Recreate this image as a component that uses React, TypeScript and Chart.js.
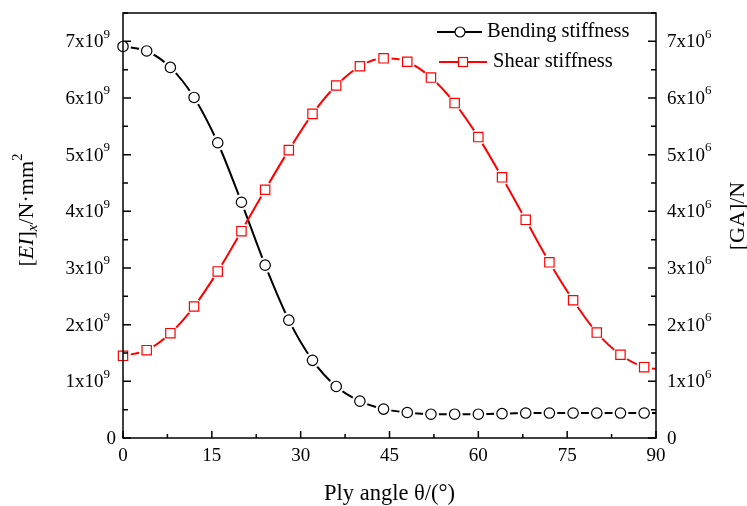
import React, { useEffect, useRef } from "react";
import { Chart, registerables } from "chart.js";

Chart.register(...registerables);

// ---- data ----
const angles = [0, 4, 8, 12, 16, 20, 24, 28, 32, 36, 40, 44, 48, 52, 56, 60, 64, 68, 72, 76, 80, 84, 88];
// Bending stiffness [EI]x (N·mm²)
const bending = [
  6.91e9, 6.83e9, 6.54e9, 6.01e9, 5.21e9, 4.16e9, 3.05e9, 2.08e9, 1.37e9, 0.91e9, 0.65e9, 0.51e9,
  0.45e9, 0.42e9, 0.42e9, 0.42e9, 0.43e9, 0.44e9, 0.44e9, 0.44e9, 0.44e9, 0.44e9, 0.44e9,
];
// Shear stiffness [GA] (N)
const shear = [
  1.45e6, 1.55e6, 1.85e6, 2.32e6, 2.94e6, 3.65e6, 4.38e6, 5.08e6, 5.72e6, 6.22e6, 6.56e6, 6.7e6,
  6.64e6, 6.36e6, 5.91e6, 5.31e6, 4.6e6, 3.85e6, 3.1e6, 2.43e6, 1.86e6, 1.47e6, 1.25e6,
];
// where the fitted curves end at the right frame (angle 90)
const curveEndAngle = 90;
const bendingAtEnd = 0.44e9;
const shearAtEnd = 1.22e6;

const seriesNames = ["Bending stiffness", "Shear stiffness"];

const xTicks = [0, 15, 30, 45, 60, 75, 90];
const xTickLabels = ["0", "15", "30", "45", "60", "75", "90"];
const leftTicks = [0, 1e9, 2e9, 3e9, 4e9, 5e9, 6e9, 7e9];
const rightTicks = [0, 1e6, 2e6, 3e6, 4e6, 5e6, 6e6, 7e6];
const tickMantissa = ["0", "1x10", "2x10", "3x10", "4x10", "5x10", "6x10", "7x10"];
const leftExp = "9";
const rightExp = "6";

const SERIF = "'Liberation Serif', 'Times New Roman', serif";

const overlay = {
  id: "overlay",
  afterDraw(chart: any) {
    const { ctx, chartArea } = chart;
    const { left, right, top, bottom } = chartArea;
    const x = chart.scales.x;
    const yL = chart.scales.yL;
    const yR = chart.scales.yR;
    ctx.save();
    ctx.strokeStyle = "#000";
    ctx.fillStyle = "#000";

    // frame
    ctx.lineWidth = 1.5;
    ctx.strokeRect(left, top, right - left, bottom - top);

    // ticks (inward)
    ctx.lineWidth = 1.5;
    ctx.beginPath();
    xTicks.forEach((v, i) => {
      const px = x.getPixelForValue(v);
      ctx.moveTo(px, bottom);
      ctx.lineTo(px, bottom - 7);
      if (i < xTicks.length - 1) {
        const pm = x.getPixelForValue((v + xTicks[i + 1]) / 2);
        ctx.moveTo(pm, bottom);
        ctx.lineTo(pm, bottom - 4);
      }
    });
    const yTicksDraw = (scale: any, ticks: number[], xEdge: number, dir: number) => {
      ticks.forEach((v, i) => {
        const py = scale.getPixelForValue(v);
        ctx.moveTo(xEdge, py);
        ctx.lineTo(xEdge + dir * 8, py);
        const nv = i < ticks.length - 1 ? ticks[i + 1] : v + (v - ticks[i - 1]);
        const mid = (v + nv) / 2;
        if (mid <= scale.max) {
          const pm = scale.getPixelForValue(mid);
          ctx.moveTo(xEdge, pm);
          ctx.lineTo(xEdge + dir * 5, pm);
        }
      });
    };
    yTicksDraw(yL, leftTicks, left, 1);
    yTicksDraw(yR, rightTicks, right, -1);
    ctx.stroke();

    // x tick labels
    ctx.font = `19px ${SERIF}`;
    ctx.textAlign = "center";
    ctx.textBaseline = "middle";
    xTicks.forEach((v, i) => {
      ctx.fillText(xTickLabels[i], x.getPixelForValue(v), bottom + 18);
    });

    // y tick labels with superscripts
    const mainFont = `19px ${SERIF}`;
    const supFont = `13px ${SERIF}`;
    leftTicks.forEach((v, i) => {
      const py = yL.getPixelForValue(v) + 1;
      if (i === 0) {
        ctx.font = mainFont;
        ctx.textAlign = "right";
        ctx.fillText(tickMantissa[i], left - 7, py);
        return;
      }
      ctx.font = supFont;
      const sw = ctx.measureText(leftExp).width;
      const end = left - 13;
      ctx.textAlign = "left";
      ctx.fillText(leftExp, end - sw, py - 8);
      ctx.font = mainFont;
      ctx.textAlign = "right";
      ctx.fillText(tickMantissa[i], end - sw, py);
    });
    rightTicks.forEach((v, i) => {
      const py = yR.getPixelForValue(v) + 1;
      const start = right + 11;
      ctx.font = mainFont;
      ctx.textAlign = "left";
      ctx.fillText(tickMantissa[i], start, py);
      if (i === 0) return;
      const mw = ctx.measureText(tickMantissa[i]).width;
      ctx.font = supFont;
      ctx.fillText(rightExp, start + mw, py - 8);
    });

    // x title
    ctx.font = `22.5px ${SERIF}`;
    ctx.textAlign = "center";
    ctx.textBaseline = "middle";
    ctx.fillText("Ply angle θ/(°)", (left + right) / 2, 494);

    // left title: [EI]x/N·mm²
    const segs = [
      { t: "[", f: `22px ${SERIF}`, dy: 0 },
      { t: "EI", f: `italic 22px ${SERIF}`, dy: 0 },
      { t: "]", f: `22px ${SERIF}`, dy: 0 },
      { t: "x", f: `italic 15px ${SERIF}`, dy: 6 },
      { t: "/N·mm", f: `22px ${SERIF}`, dy: 0 },
      { t: "2", f: `15px ${SERIF}`, dy: -9 },
    ];
    let total = 0;
    segs.forEach((s) => {
      ctx.font = s.f;
      total += ctx.measureText(s.t).width;
    });
    ctx.save();
    ctx.translate(27, 210);
    ctx.rotate(-Math.PI / 2);
    ctx.textAlign = "left";
    ctx.textBaseline = "middle";
    let cx = -total / 2;
    segs.forEach((s) => {
      ctx.font = s.f;
      ctx.fillText(s.t, cx, s.dy);
      cx += ctx.measureText(s.t).width;
    });
    ctx.restore();

    // right title
    ctx.save();
    ctx.translate(738, 216);
    ctx.rotate(-Math.PI / 2);
    ctx.font = `22px ${SERIF}`;
    ctx.textAlign = "center";
    ctx.textBaseline = "middle";
    ctx.fillText("[GA]/N", 0, 0);
    ctx.restore();

    // legend
    ctx.font = `20.5px ${SERIF}`;
    ctx.textAlign = "left";
    ctx.textBaseline = "middle";
    // row 1
    ctx.lineWidth = 2;
    ctx.strokeStyle = "#000";
    ctx.beginPath();
    ctx.moveTo(437, 32);
    ctx.lineTo(482, 32);
    ctx.stroke();
    ctx.beginPath();
    ctx.arc(460, 32, 5, 0, Math.PI * 2);
    ctx.fillStyle = "#fff";
    ctx.fill();
    ctx.lineWidth = 1.2;
    ctx.stroke();
    ctx.fillStyle = "#000";
    ctx.fillText(seriesNames[0], 487, 32);
    // row 2
    ctx.lineWidth = 2;
    ctx.strokeStyle = "#ff0000";
    ctx.beginPath();
    ctx.moveTo(439, 62);
    ctx.lineTo(487, 62);
    ctx.stroke();
    ctx.fillStyle = "#fff";
    ctx.fillRect(458.5, 57.5, 9, 9);
    ctx.lineWidth = 1.2;
    ctx.strokeRect(458.5, 57.5, 9, 9);
    ctx.fillStyle = "#000";
    ctx.fillText(seriesNames[1], 493, 62);

    ctx.restore();
  },
};

export default function App() {
  const ref = useRef<HTMLCanvasElement>(null);
  useEffect(() => {
    if (!ref.current) return;
    const pts = (ys: number[]) => angles.map((a, i) => ({ x: a, y: ys[i] }));
    const bendCurve = [...pts(bending), { x: curveEndAngle, y: bendingAtEnd }];
    const shearCurve = [...pts(shear), { x: curveEndAngle, y: shearAtEnd }];
    const chart = new Chart(ref.current, {
      type: "line",
      data: {
        datasets: [
          {
            label: seriesNames[0] + " curve",
            data: bendCurve,
            yAxisID: "yL",
            borderColor: "#000",
            borderWidth: 2,
            pointRadius: 0,
            cubicInterpolationMode: "monotone",
            order: 6,
          },
          {
            label: seriesNames[0] + " gap",
            data: pts(bending),
            yAxisID: "yL",
            showLine: false,
            pointRadius: 8,
            pointBorderWidth: 0,
            pointBackgroundColor: "#fff",
            pointBorderColor: "#fff",
            clip: false,
            order: 5,
          },
          {
            label: seriesNames[0],
            data: pts(bending),
            yAxisID: "yL",
            showLine: false,
            pointRadius: 5.2,
            pointBorderWidth: 1.2,
            pointBackgroundColor: "#fff",
            pointBorderColor: "#000",
            clip: false,
            order: 4,
          },
          {
            label: seriesNames[1] + " curve",
            data: shearCurve,
            yAxisID: "yR",
            borderColor: "#ff0000",
            borderWidth: 2,
            pointRadius: 0,
            cubicInterpolationMode: "monotone",
            order: 3,
          },
          {
            label: seriesNames[1] + " gap",
            data: pts(shear),
            yAxisID: "yR",
            showLine: false,
            pointRadius: 8,
            pointBorderWidth: 0,
            pointBackgroundColor: "#fff",
            pointBorderColor: "#fff",
            clip: false,
            order: 2,
          },
          {
            label: seriesNames[1],
            data: pts(shear),
            yAxisID: "yR",
            showLine: false,
            pointStyle: "rect",
            pointRadius: 6.6,
            pointBorderWidth: 1.2,
            pointBackgroundColor: "#fff",
            pointBorderColor: "#ff0000",
            clip: false,
            order: 1,
          },
        ],
      },
      options: {
        animation: false,
        responsive: false,
        events: [],
        layout: { padding: { left: 123, right: 91, top: 13, bottom: 68 } },
        plugins: { legend: { display: false }, tooltip: { enabled: false } },
        scales: {
          x: { type: "linear", min: 0, max: 90, display: false },
          yL: { type: "linear", position: "left", min: 0, max: 7.5e9, display: false },
          yR: { type: "linear", position: "right", min: 0, max: 7.5e6, display: false },
        },
      },
      plugins: [overlay],
    });
    return () => chart.destroy();
  }, []);
  return (
    <div style={{ position: "fixed", left: 0, top: 0, width: 747, height: 506, background: "#fff" }}>
      <canvas ref={ref} width={747} height={506} style={{ display: "block" }} />
    </div>
  );
}
